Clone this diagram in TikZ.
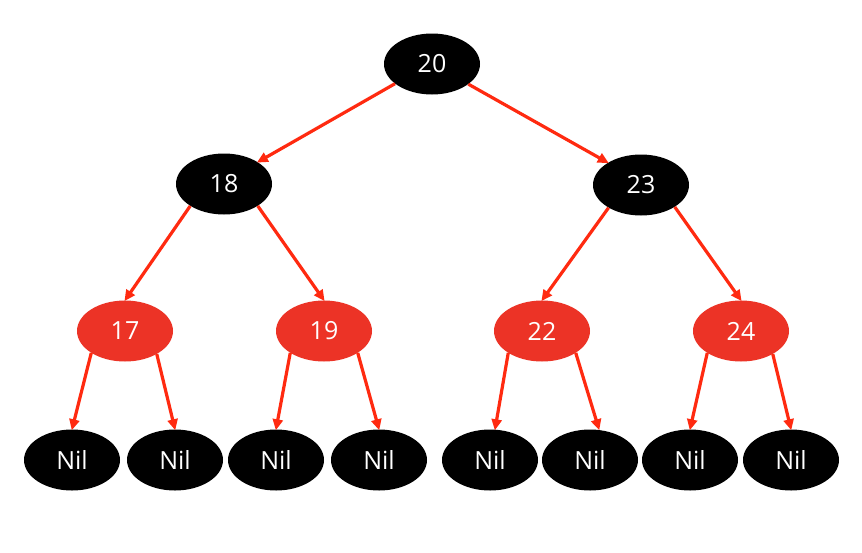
\documentclass[tikz,border=0pt]{standalone}
\usepackage{fontspec}
\setmainfont{Open Sans}
\usetikzlibrary{arrows.meta,shapes.geometric}
\definecolor{nodered}{HTML}{EC3326}
\definecolor{edgered}{HTML}{FF2A10}
\tikzset{
  tnode/.style={ellipse, minimum width=96pt, minimum height=61pt, inner sep=0pt,
    text=white, font=\fontsize{25}{28}\selectfont},
  blk/.style={tnode, fill=black},
  rd/.style={tnode, fill=nodered},
  edge/.style={draw=edgered, line width=3.2pt,
    -{Triangle[length=11pt,width=10pt]}, shorten >=-1pt},
}
\begin{document}
\begin{tikzpicture}[x=1pt,y=-1pt]
\useasboundingbox[fill=white] (0,0) rectangle (862,552);
\node[blk] (n20) at (432,64) {20};
\node[blk] (n18) at (224,184) {18};
\node[blk] (n23) at (641,185) {23};
\node[rd] (n17) at (125,331) {17};
\node[rd] (n19) at (324,331) {19};
\node[rd] (n22) at (542,331) {22};
\node[rd] (n24) at (741,331) {24};
\node[blk] (l1) at (72,460) {Nil};
\node[blk] (l2) at (175,460) {Nil};
\node[blk] (l3) at (276,460) {Nil};
\node[blk] (l4) at (379,460) {Nil};
\node[blk] (l5) at (490,460) {Nil};
\node[blk] (l6) at (590,460) {Nil};
\node[blk] (l7) at (690,460) {Nil};
\node[blk] (l8) at (791,460) {Nil};
\draw[edge] (n20.208) -- (n18.33);
\draw[edge] (n20.331) -- (n23.146);
\draw[edge] (n18.213) -- (n17.north);
\draw[edge] (n18.327) -- (n19.north);
\draw[edge] (n23.215) -- (n22.north);
\draw[edge] (n23.327) -- (n24.north);
\draw[edge] (n17.213) -- (l1.north);
\draw[edge] (n17.324) -- (l2.north);
\draw[edge] (n19.213) -- (l3.north);
\draw[edge] (n19.327) -- (l4.north);
\draw[edge] (n22.213) -- ([xshift=5pt]l5.north);
\draw[edge] (n22.327) -- ([xshift=9pt]l6.north);
\draw[edge] (n24.213) -- (l7.north);
\draw[edge] (n24.324) -- (l8.north);
\end{tikzpicture}
\end{document}
